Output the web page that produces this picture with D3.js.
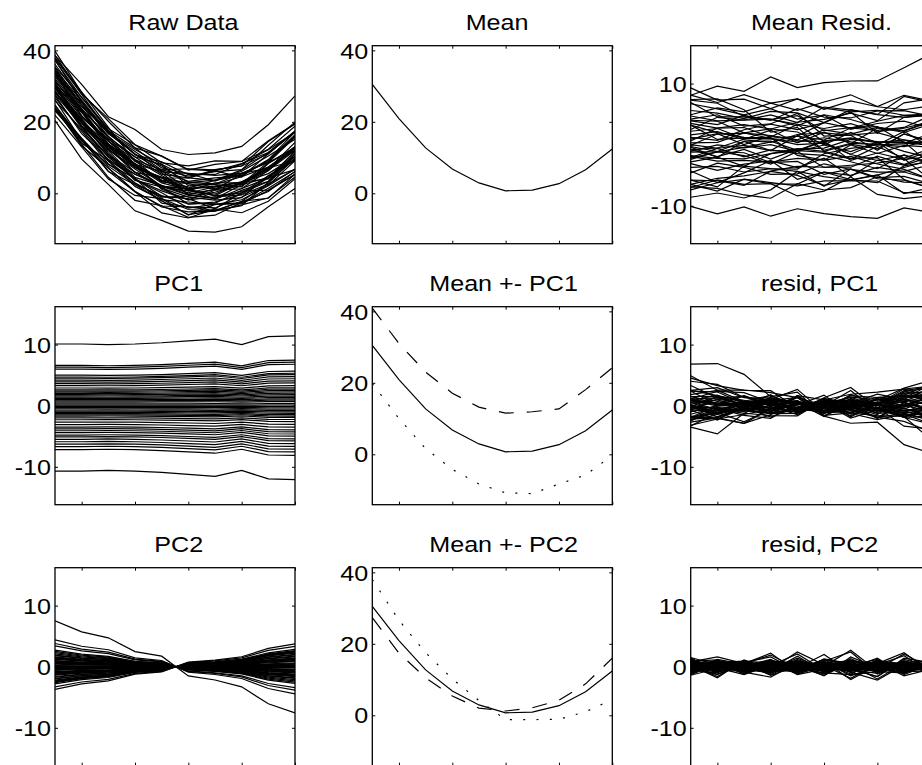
<!DOCTYPE html>
<html>
<head>
<meta charset="utf-8">
<script src="https://cdn.jsdelivr.net/npm/d3@7"></script>
<style>
  body { margin: 0; background: #fff; }
  text { font-family: "Liberation Sans", Arial, Helvetica, sans-serif; fill: #000; }
</style>
</head>
<body>
<svg id="fig" width="922" height="765"></svg>
<script>
// sample positions along x
var xPos = [1, 2, 3, 4, 5, 6, 7, 8, 9, 10];

// mean curve and the two mean +- PC curves
var meanCurve    = [30.5, 20.9, 12.7, 6.8, 2.9, 0.7, 0.9, 2.7, 6.6, 12.4];
var meanPlusPC1  = [40.9, 31.0, 23.0, 17.1, 13.2, 11.5, 11.9, 12.7, 18.1, 24.2];
var meanMinusPC1 = [19.8, 10.0, 1.6, -4.2, -8.3, -10.8, -11.0, -8.3, -5.8, -0.3];
var meanPlusPC2  = [27.3, 17.4, 10.5, 5.4, 2.0, 1.2, 2.1, 4.2, 8.8, 16.0];
var meanMinusPC2 = [38.0, 26.6, 17.5, 10.2, 4.1, -1.2, -1.2, -1.1, 1.0, 4.4];

// component shapes
var pc1 = [1.00, 1.00, 0.99, 1.00, 1.02, 1.05, 1.08, 0.99, 1.12, 1.13];
var pc2 = [-1.00, -0.76, -0.63, -0.33, -0.23, 0.20, 0.29, 0.44, 0.81, 1.01];

// per-curve scores on PC1 / PC2
var score1 = [10.1, 6.6, 6.3, 6.0, 5.0, 4.7, 4.5, 4.2, 3.9, 3.6,
              3.3, 2.9, 2.6, 2.4, 2.2, 2.0, 1.8, 1.6, 1.4, 1.2,
              1.0, 0.8, 0.6, 0.3, 0.1, -0.1, -0.3, -0.5, -0.7, -0.9,
              -1.1, -1.3, -1.5, -1.7, -2.0, -2.3, -2.7, -3.1, -3.5, -3.8,
              -4.1, -4.4, -4.8, -5.1, -5.5, -5.9, -6.3, -6.7, -7.2, -10.7];
var score2 = [2.8, -1.2, 0.9, -2.1, 1.6, -0.5, 0.4, -1.8, 2.2, -0.9,
              -3.4, 1.3, 0.1, -2.5, 2.0, -4.4, 0.6, -1.5, 1.9, -0.2,
              2.6, -1.0, -7.5, 1.0, -1.6, 0.5, -2.7, 1.4, -0.6, 2.3,
              -1.3, -3.8, 0.2, 1.7, -0.8, 3.7, -1.9, 0.8, -2.3, 2.5,
              -0.1, 1.2, -1.4, 2.4, -0.4, 3.3, 0.0, 1.1, -0.7, 0.3];

// what is left after PC2 (the "resid, PC2" panel)
var residPC2 = [
  [0.8, 1.6, 0.5, 1.9, -0.3, -1.0, -1.3, -0.8, -1.0, 0.6],
  [0.3, -0.6, 0.9, -0.2, 0.5, -0.9, 0.4, 0.2, -0.7, 0.1],
  [-0.5, 0.4, -0.3, 0.8, -0.6, 0.2, 1.1, -0.4, 0.3, -0.9],
  [1.2, -0.3, 0.2, -0.8, 0.9, 0.1, -0.5, 0.6, -0.2, 0.4],
  [-0.9, 0.7, 0.1, 0.4, -1.1, 0.6, -0.2, -0.7, 1.0, -0.3],
  [0.4, 0.1, -0.7, 0.6, 0.3, -1.2, 0.8, 0.5, -0.4, 0.2],
  [-0.2, -0.9, 0.6, -0.4, 1.4, -0.3, -0.6, 0.9, 0.2, -0.8],
  [0.7, 0.3, -0.4, 1.1, -0.5, 0.8, -1.5, 0.1, 0.6, -0.2],
  [-1.1, 0.5, 0.8, -0.6, 0.2, -0.4, 0.3, -0.9, 0.7, 0.9],
  [0.2, -0.4, -0.1, 0.3, -0.8, 1.3, 0.5, -0.3, -1.1, 0.6],
  [0.6, 0.9, -0.8, -0.3, 0.6, -0.5, 0.2, 1.2, -0.6, -0.4],
  [-0.4, -1.2, 0.4, 0.9, -0.2, 0.3, -0.8, 0.4, 0.5, 0.1],
  [1.0, 0.2, 0.3, -1.3, 0.7, -0.1, 0.6, -0.5, -0.3, 0.8],
  [-0.7, 0.6, -0.9, 0.2, 2.1, -0.6, -0.3, 0.7, 0.1, -0.5],
  [0.1, -0.3, 1.0, -0.5, -0.4, 0.9, 2.4, -1.2, 0.4, 0.3],
  [0.5, -0.8, -0.2, 0.7, 0.3, -0.7, 0.1, 0.3, 1.8, -1.1],
  [-1.3, 0.4, 0.5, -0.1, -0.9, 0.4, -0.4, 0.8, -0.5, 0.7],
  [0.9, 1.1, -0.6, 0.5, 0.1, -1.4, 0.7, -0.6, 0.2, -0.1],
  [-0.3, -0.5, 0.7, 1.6, -0.7, 0.2, -1.9, 0.5, -0.8, 0.4],
  [0.2, 0.8, -0.5, -0.9, 0.4, 0.7, 0.3, -2.0, 0.6, -0.6],
  [-0.6, -0.2, 0.2, 0.3, 1.0, -0.8, 0.9, 0.2, -0.4, 1.0],
  [1.4, -0.7, -0.3, -0.2, -0.6, 0.5, -0.1, -0.4, 2.1, -0.3],
  [-0.7, 1.2, 0.4, -1.0, 0.5, -0.2, -0.7, 0.6, -0.3, -0.2],
  [0.3, -1.6, 0.9, 0.6, -1.0, 0.1, 0.5, -0.3, -0.9, 0.5],
  [-0.8, 0.5, -1.1, 0.8, 0.2, 0.6, -1.2, 0.9, 0.1, -0.7],
  [0.6, -0.1, 0.3, -0.7, 1.7, -0.9, 0.2, -0.1, -0.6, 0.3],
  [-0.2, 0.9, -0.4, 0.4, -0.3, 1.1, -0.5, -1.1, 0.8, -0.2],
  [1.1, -0.4, 0.6, -1.4, 0.1, -0.3, 1.0, 0.4, -0.2, -0.6],
  [-1.0, 0.2, -0.2, 0.5, -0.5, 0.8, -0.2, 1.4, -1.3, 0.4],
  [0.4, 0.6, -1.2, 0.2, 0.8, -0.6, 0.4, -0.8, 0.9, -0.9],
  [-0.5, -1.0, 0.8, -0.3, -0.2, 2.0, -1.0, 0.3, -0.1, 0.6],
  [0.7, 0.4, 0.1, 1.2, -1.3, -0.4, 0.6, -0.2, 0.5, -0.4],
  [-0.1, -0.6, -0.7, 0.1, 0.6, 0.3, -0.8, 1.1, -0.7, 0.9],
  [1.5, 0.3, 0.2, -0.6, -0.1, -1.1, 1.3, -0.5, 0.4, -0.2],
  [-0.9, 0.8, -0.5, 0.9, 0.4, 0.5, -0.4, -1.6, 1.2, 0.1],
  [0.2, -1.8, 1.1, -0.4, -0.8, 0.2, 0.8, 0.6, -0.3, -0.5],
  [-0.4, 0.1, -0.3, -1.1, 1.2, -0.5, 0.1, 0.5, 2.3, -0.8],
  [0.8, -0.5, 0.4, 0.7, -0.4, 0.9, -2.1, 0.2, -0.5, 0.7],
  [-1.2, 0.6, 0.7, -0.2, 0.3, -0.7, 0.5, -0.9, 0.6, -0.1],
  [0.5, -0.2, -1.3, 0.3, 0.9, -0.2, -0.3, 0.8, -1.0, 0.4],
  [-0.6, 1.0, 0.3, -0.8, -0.6, 1.2, 0.4, -0.4, 0.2, -0.9],
  [1.3, -0.9, 0.5, 2.2, -0.9, -0.1, -0.6, 0.1, -0.4, 0.5],
  [-0.3, 0.2, -0.6, 0.4, 0.2, -1.5, 1.6, -0.2, 0.7, -0.3],
  [0.1, 0.7, 0.9, -0.5, -0.7, 0.4, -0.9, -2.2, 0.3, 0.6],
  [-1.4, -0.3, 0.1, 1.0, 0.5, -0.8, 0.3, 0.7, -1.5, -0.4],
  [0.6, 0.5, -0.8, -0.4, 2.4, 0.3, -0.4, -0.6, 0.2, 0.8],
  [-0.2, -1.3, 0.6, 0.1, -0.3, 0.7, 0.9, 0.3, -0.8, -0.7],
  [0.9, 0.4, -0.9, -1.7, 0.7, -0.6, -0.1, 0.9, 0.5, 0.2],
  [-0.5, 0.9, 0.2, 0.6, -1.2, 0.1, 2.7, -0.7, -0.2, 0.5],
  [0.9, -0.4, 0.6, -0.9, 0.5, -0.1, -0.3, -1.6, 1.4, 0.7]
];

var rawDomain = [-14.1, 41.3];
var residDomain = [-16.2, 16.2];
var rawTicks = [0, 20, 40];
var residTicks = [-10, 0, 10];
var xTicks = [2, 4, 6, 8, 10];

// ---- build the panels from the pieces ----
var pc1Part = score1.map(function(s) { return pc1.map(function(p) { return s * p; }); });
var pc2Part = score2.map(function(s) { return pc2.map(function(p) { return s * p; }); });
var residPC1 = pc2Part.map(function(row, i) { return row.map(function(v, j) { return v + residPC2[i][j]; }); });
var meanResid = pc1Part.map(function(row, i) { return row.map(function(v, j) { return v + residPC1[i][j]; }); });
var rawData = meanResid.map(function(row) { return row.map(function(v, j) { return v + meanCurve[j]; }); });

function solid(list) { return list.map(function(v) { return { v: v, dash: null }; }); }
var DASHED = "15,13", DOTTED = "2,11.3";

var panels = [
  { title: "Raw Data",    col: 0, row: 0, dom: rawDomain,   ticks: rawTicks,   curves: solid(rawData) },
  { title: "Mean",        col: 1, row: 0, dom: rawDomain,   ticks: rawTicks,   curves: solid([meanCurve]) },
  { title: "Mean Resid.", col: 2, row: 0, dom: residDomain, ticks: residTicks, curves: solid(meanResid) },
  { title: "PC1",         col: 0, row: 1, dom: residDomain, ticks: residTicks, curves: solid(pc1Part) },
  { title: "Mean +- PC1", col: 1, row: 1, dom: rawDomain,   ticks: rawTicks,
    curves: [{ v: meanCurve, dash: null }, { v: meanPlusPC1, dash: DASHED }, { v: meanMinusPC1, dash: DOTTED }] },
  { title: "resid, PC1",  col: 2, row: 1, dom: residDomain, ticks: residTicks, curves: solid(residPC1) },
  { title: "PC2",         col: 0, row: 2, dom: residDomain, ticks: residTicks, curves: solid(pc2Part) },
  { title: "Mean +- PC2", col: 1, row: 2, dom: rawDomain,   ticks: rawTicks,
    curves: [{ v: meanCurve, dash: null }, { v: meanPlusPC2, dash: DASHED }, { v: meanMinusPC2, dash: DOTTED }] },
  { title: "resid, PC2",  col: 2, row: 2, dom: residDomain, ticks: residTicks, curves: solid(residPC2) }
];

// ---- layout ----
var W = 240, H = 198;
var colX = [55, 372.3, 690.7];
var rowY = [45.7, 306.7, 567.7];
var FONT = 21.3, STRETCH = 1.18, PAD = 3.4;

var svg = d3.select("#fig");

panels.forEach(function(p, k) {
  var x = d3.scaleLinear().domain([1, 10]).range([0, W]);
  var y = d3.scaleLinear().domain(p.dom).range([H, 0]);

  var g = svg.append("g").attr("transform", "translate(" + colX[p.col] + "," + rowY[p.row] + ")");

  g.append("clipPath").attr("id", "clip" + k)
    .append("rect").attr("width", W).attr("height", H);

  var line = d3.line()
    .x(function(d, i) { return x(xPos[i]); })
    .y(function(d) { return y(d); });

  g.append("g").attr("clip-path", "url(#clip" + k + ")")
    .selectAll("path").data(p.curves).enter().append("path")
      .attr("d", function(c) { return line(c.v); })
      .attr("fill", "none")
      .attr("stroke", "#000")
      .attr("stroke-width", 1.2)
      .attr("stroke-dasharray", function(c) { return c.dash; });

  // inward ticks on all four sides, labels only on the left
  var left = d3.axisLeft(y).tickValues(p.ticks).tickSizeInner(-3).tickSizeOuter(0).tickPadding(PAD);
  var right = d3.axisRight(y).tickValues(p.ticks).tickSizeInner(-3).tickSizeOuter(0).tickFormat("");
  var top = d3.axisTop(x).tickValues(xTicks).tickSizeInner(-3).tickSizeOuter(0).tickFormat("");
  var bottom = d3.axisBottom(x).tickValues(xTicks).tickSizeInner(-3).tickSizeOuter(0).tickFormat("");

  var ga = g.append("g").call(left);
  g.append("g").attr("transform", "translate(" + W + ",0)").call(right);
  g.append("g").call(top);
  g.append("g").attr("transform", "translate(0," + H + ")").call(bottom);

  g.selectAll(".domain").remove();
  g.selectAll(".tick line").attr("stroke", "#000").attr("stroke-width", 1);

  ga.selectAll("text")
    .attr("font-family", null)
    .style("font-size", FONT + "px")
    .attr("dy", "0.36em")
    .attr("fill", "#000")
    .attr("transform", "scale(" + STRETCH + ",1)")
    .text(function(d) { return d < 0 ? "-" + Math.abs(d) : d; });

  g.append("rect")
    .attr("width", W).attr("height", H)
    .attr("fill", "none").attr("stroke", "#000").attr("stroke-width", 1.3);

  // title: laid out at its natural width then stretched sideways from its start
  var t = g.append("text")
    .style("font-size", FONT + "px")
    .attr("text-anchor", "start")
    .text(p.title);
  var w0 = t.node().getComputedTextLength();
  t.attr("transform", "translate(" + (W / 2 - w0 / 2) + "," + (-16) + ") scale(" + STRETCH + ",1)");
});
</script>
</body>
</html>
